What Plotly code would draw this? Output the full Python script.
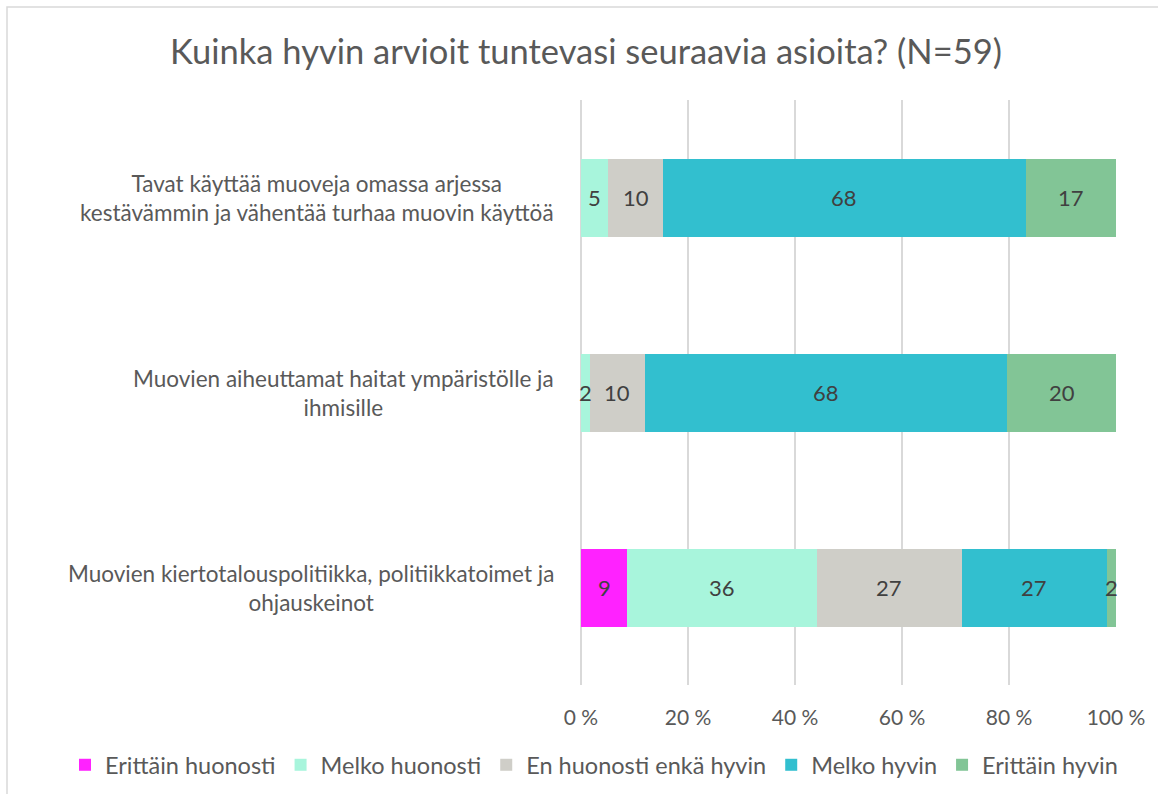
import plotly.graph_objects as go

categories = [
    "Tavat käyttää muoveja omassa arjessa<br>kestävämmin ja vähentää turhaa muovin käyttöä",
    "Muovien aiheuttamat haitat ympäristölle ja<br>ihmisille",
    "Muovien kiertotalouspolitiikka, politiikkatoimet ja<br>ohjauskeinot",
]
series_names = ["Erittäin huonosti", "Melko huonosti", "En huonosti enkä hyvin", "Melko hyvin", "Erittäin hyvin"]
erittain_huonosti = [0, 0, 8.6]
melko_huonosti = [5.1, 1.7, 35.5]
en_huonosti_enka_hyvin = [10.2, 10.2, 27.1]
melko_hyvin = [67.8, 67.8, 27.1]
erittain_hyvin = [16.9, 20.3, 1.7]
tick_values = [0, 20, 40, 60, 80, 100]
tick_labels = ["0 %", "20 %", "40 %", "60 %", "80 %", "100 %"]
title_text = "Kuinka hyvin arvioit tuntevasi seuraavia asioita? (N=59)"

series_values = [erittain_huonosti, melko_huonosti, en_huonosti_enka_hyvin, melko_hyvin, erittain_hyvin]
colors = ["#FF22FF", "#A8F5DC", "#CFCEC8", "#32BFCF", "#82C596"]

FONT = "Lato"
GREY = "#595959"

ids = list(range(len(categories)))

fig = go.Figure()
for name, vals, col in zip(series_names, series_values, colors):
    fig.add_trace(go.Bar(
        y=ids, x=vals, name=name, orientation="h",
        marker=dict(color=col, line=dict(width=0)),
        hoverinfo="x+name",
    ))

# value labels centred in each segment
for i in ids:
    base = 0.0
    for vals in series_values:
        v = vals[i]
        if v > 0:
            fig.add_annotation(x=base + v / 2, y=i, xref="x", yref="y", text="%d" % round(v),
                               showarrow=False, xanchor="center", yanchor="middle",
                               font=dict(family=FONT, size=22, color="#404040"))
        base += v

fig.update_layout(
    barmode="stack",
    bargap=0.6,
    width=1158, height=794,
    margin=dict(l=581, r=42, t=100, b=109, autoexpand=False),
    paper_bgcolor="white", plot_bgcolor="white",
    font=dict(family=FONT, color=GREY),
    title=dict(text=title_text, x=586 / 1158, xanchor="center", y=1 - 52 / 794, yanchor="middle",
               font=dict(family=FONT, size=34.5, color=GREY)),
    xaxis=dict(range=[0, 100], tickvals=tick_values, ticktext=tick_labels,
               showgrid=True, gridcolor="#D9D9D9", gridwidth=1.5,
               zeroline=True, zerolinecolor="#D9D9D9", zerolinewidth=1.5,
               showline=False, ticks="", ticklabelstandoff=18,
               tickfont=dict(family=FONT, size=21, color=GREY)),
    yaxis=dict(range=[2.5, -0.5], showticklabels=False, showgrid=False, zeroline=False,
               showline=False, ticks=""),
    legend=dict(orientation="h", xref="paper", yref="paper",
                x=(65 - 581) / 535, xanchor="left", y=(685 - 765) / 585, yanchor="middle",
                font=dict(family=FONT, size=23.5, color=GREY), traceorder="normal",
                itemwidth=30, bgcolor="rgba(0,0,0,0)"),
    showlegend=True,
)

for i, cat in enumerate(categories):
    fig.add_annotation(x=0, xref="paper", y=i, yref="y", text=cat, showarrow=False,
                       xanchor="right", yanchor="middle", align="center", xshift=-25,
                       font=dict(family=FONT, size=22.5, color=GREY))

# chart border (only top and left edges fall inside the picture)
fig.add_shape(type="rect", xref="paper", yref="paper",
              x0=(7 - 581) / 535, x1=(1170 - 581) / 535,
              y0=(685 - 810) / 585, y1=(685 - 7) / 585,
              line=dict(color="#D9D9D9", width=1.5), fillcolor="rgba(0,0,0,0)", layer="below")

fig.write_html("out.html", config={"displayModeBar": False},
               post_script="document.body.style.margin='0';document.body.style.overflow='hidden';")
